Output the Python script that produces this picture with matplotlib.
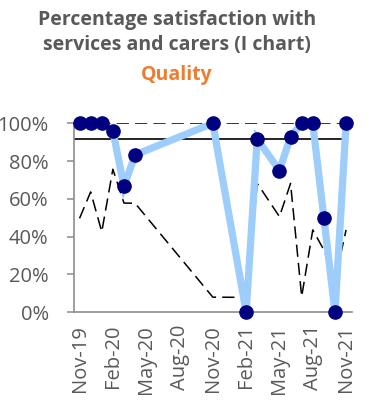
import pandas as pd
import matplotlib
matplotlib.use('Agg')
import matplotlib.pyplot as plt
from matplotlib.ticker import PercentFormatter

plt.rcParams['font.family'] = ['Open Sans', 'DejaVu Sans']

# Monthly satisfaction scores (share of respondents satisfied)
months = ['2019-11', '2019-12', '2020-01', '2020-02', '2020-03', '2020-04',
          '2020-11', '2021-02', '2021-03', '2021-05', '2021-06', '2021-07',
          '2021-08', '2021-09', '2021-10', '2021-11']
satisfaction = [1.00, 1.00, 1.00, 0.96, 0.667, 0.833,
                1.00, 0.00, 0.917, 0.75, 0.929, 1.00,
                1.00, 0.50, 0.00, 1.00]
mean_line = 0.915
upper_limit = [1.0] * len(months)
lower_limit = [0.497, 0.637, 0.426, 0.757, 0.578, 0.577,
               0.08, 0.079, 0.682, 0.506, 0.682, 0.083,
               0.436, 0.33, 0.17, 0.436]

tick_months = ['2019-11', '2020-02', '2020-05', '2020-08', '2020-11',
               '2021-02', '2021-05', '2021-08', '2021-11']
tick_labels = ['Nov-19', 'Feb-20', 'May-20', 'Aug-20', 'Nov-20',
               'Feb-21', 'May-21', 'Aug-21', 'Nov-21']

# month index counted from the first month
start = pd.Period(months[0], freq='M')
x = [(pd.Period(m, freq='M') - start).n for m in months]
xt = [(pd.Period(m, freq='M') - start).n for m in tick_months]

fig = plt.figure(figsize=(3.86, 4.04), dpi=100)
ax = fig.add_axes([0.1917, 0.227, 0.7193, 0.4678])

grey = '#595959'
ax.plot([-0.5, x[-1]], [mean_line, mean_line], color='black', lw=1.2, zorder=2)
ax.plot(x, upper_limit, color='black', lw=1.1, dashes=(8, 4), zorder=2)
ax.plot(x, lower_limit, color='black', lw=1.1, dashes=(8, 4), zorder=2)
ax.plot(x, satisfaction, color='#9DCDFB', lw=5.2, zorder=3,
        solid_joinstyle='miter')
ax.plot(x, satisfaction, ls='none', marker='o', ms=9.5, color='#000080',
        zorder=4, clip_on=False)

ax.set_xlim(-0.5, 24.5)
ax.set_ylim(0, 1)
ax.set_yticks([0, 0.2, 0.4, 0.6, 0.8, 1.0])
ax.yaxis.set_major_formatter(PercentFormatter(1.0, decimals=0))
ax.set_xticks(xt)
ax.set_xticklabels(tick_labels, rotation=90)

for side in ['top', 'right']:
    ax.spines[side].set_visible(False)
for side in ['left', 'bottom']:
    ax.spines[side].set_color('#8C8C8C')
    ax.spines[side].set_linewidth(1.2)

ax.tick_params(axis='y', length=5.2, width=1.1, color='#8C8C8C',
               labelsize=14.5, labelcolor=grey, pad=13)
ax.tick_params(axis='x', length=0, labelsize=14.5, labelcolor=grey, pad=9)

fig.text(0.458, 0.938, 'Percentage satisfaction with', ha='center',
         va='baseline', fontsize=14, fontweight='bold', color=grey)
fig.text(0.458, 0.876, 'services and carers (I chart)', ha='center',
         va='baseline', fontsize=14, fontweight='bold', color=grey)
fig.text(0.458, 0.802, 'Quality', ha='center', va='baseline', fontsize=14,
         fontweight='bold', color='#ED7D31')

fig.savefig('out.png', dpi=100)
